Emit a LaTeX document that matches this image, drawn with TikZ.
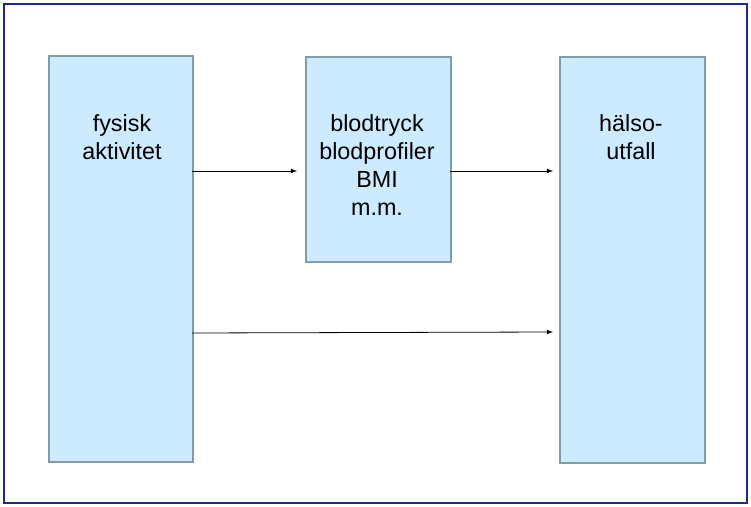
\documentclass[tikz,border=0pt]{standalone}
\usepackage{fontspec}
\setmainfont{Liberation Sans}
\usetikzlibrary{positioning}
\definecolor{boxfill}{HTML}{CCEBFF}
\definecolor{boxline}{HTML}{7F9FA6}
\definecolor{frameline}{HTML}{1F2A8A}
\tikzset{
  block/.style={draw=boxline, line width=1.6pt, fill=boxfill},
  label/.style={anchor=north, align=center, inner sep=0pt, font=\fontsize{17.5}{21}\selectfont},
  link/.style={->, >=latex, line width=0.6pt}
}
\begin{document}
\begin{tikzpicture}[x=0.75pt, y=-0.75pt]
\useasboundingbox (0,0) rectangle (751,507);
\draw[frameline, line width=1pt] (4,4) rectangle (747,503);

\node[block, minimum width=144*0.75pt, minimum height=406*0.75pt, anchor=north west] (fysisk) at (48,55) {};
\node[block, minimum width=145*0.75pt, minimum height=205*0.75pt, anchor=north west] (mellan) at (305,56) {};
\node[block, minimum width=145*0.75pt, minimum height=406*0.75pt, anchor=north west] (halsa) at (559,56) {};

\node[label] (fysisktext) at (122,114) {fysisk\\aktivitet};
\node[label] (mellantext) at (377,114) {blodtryck\\blodprofiler\\BMI\\m.m.};
\node[label] (halsatext) at (631,114) {hälso-\\utfall};

\coordinate (a1) at (192,171);
\coordinate (a2) at (297,171);
\coordinate (b1) at (450,171);
\coordinate (b2) at (553,171);
\coordinate (c1) at (192,333);
\coordinate (c2) at (553,332);

\draw[link] (a1) -- (a2);
\draw[link] (b1) -- (b2);
\draw[link] (c1) -- (c2);
\end{tikzpicture}
\end{document}
